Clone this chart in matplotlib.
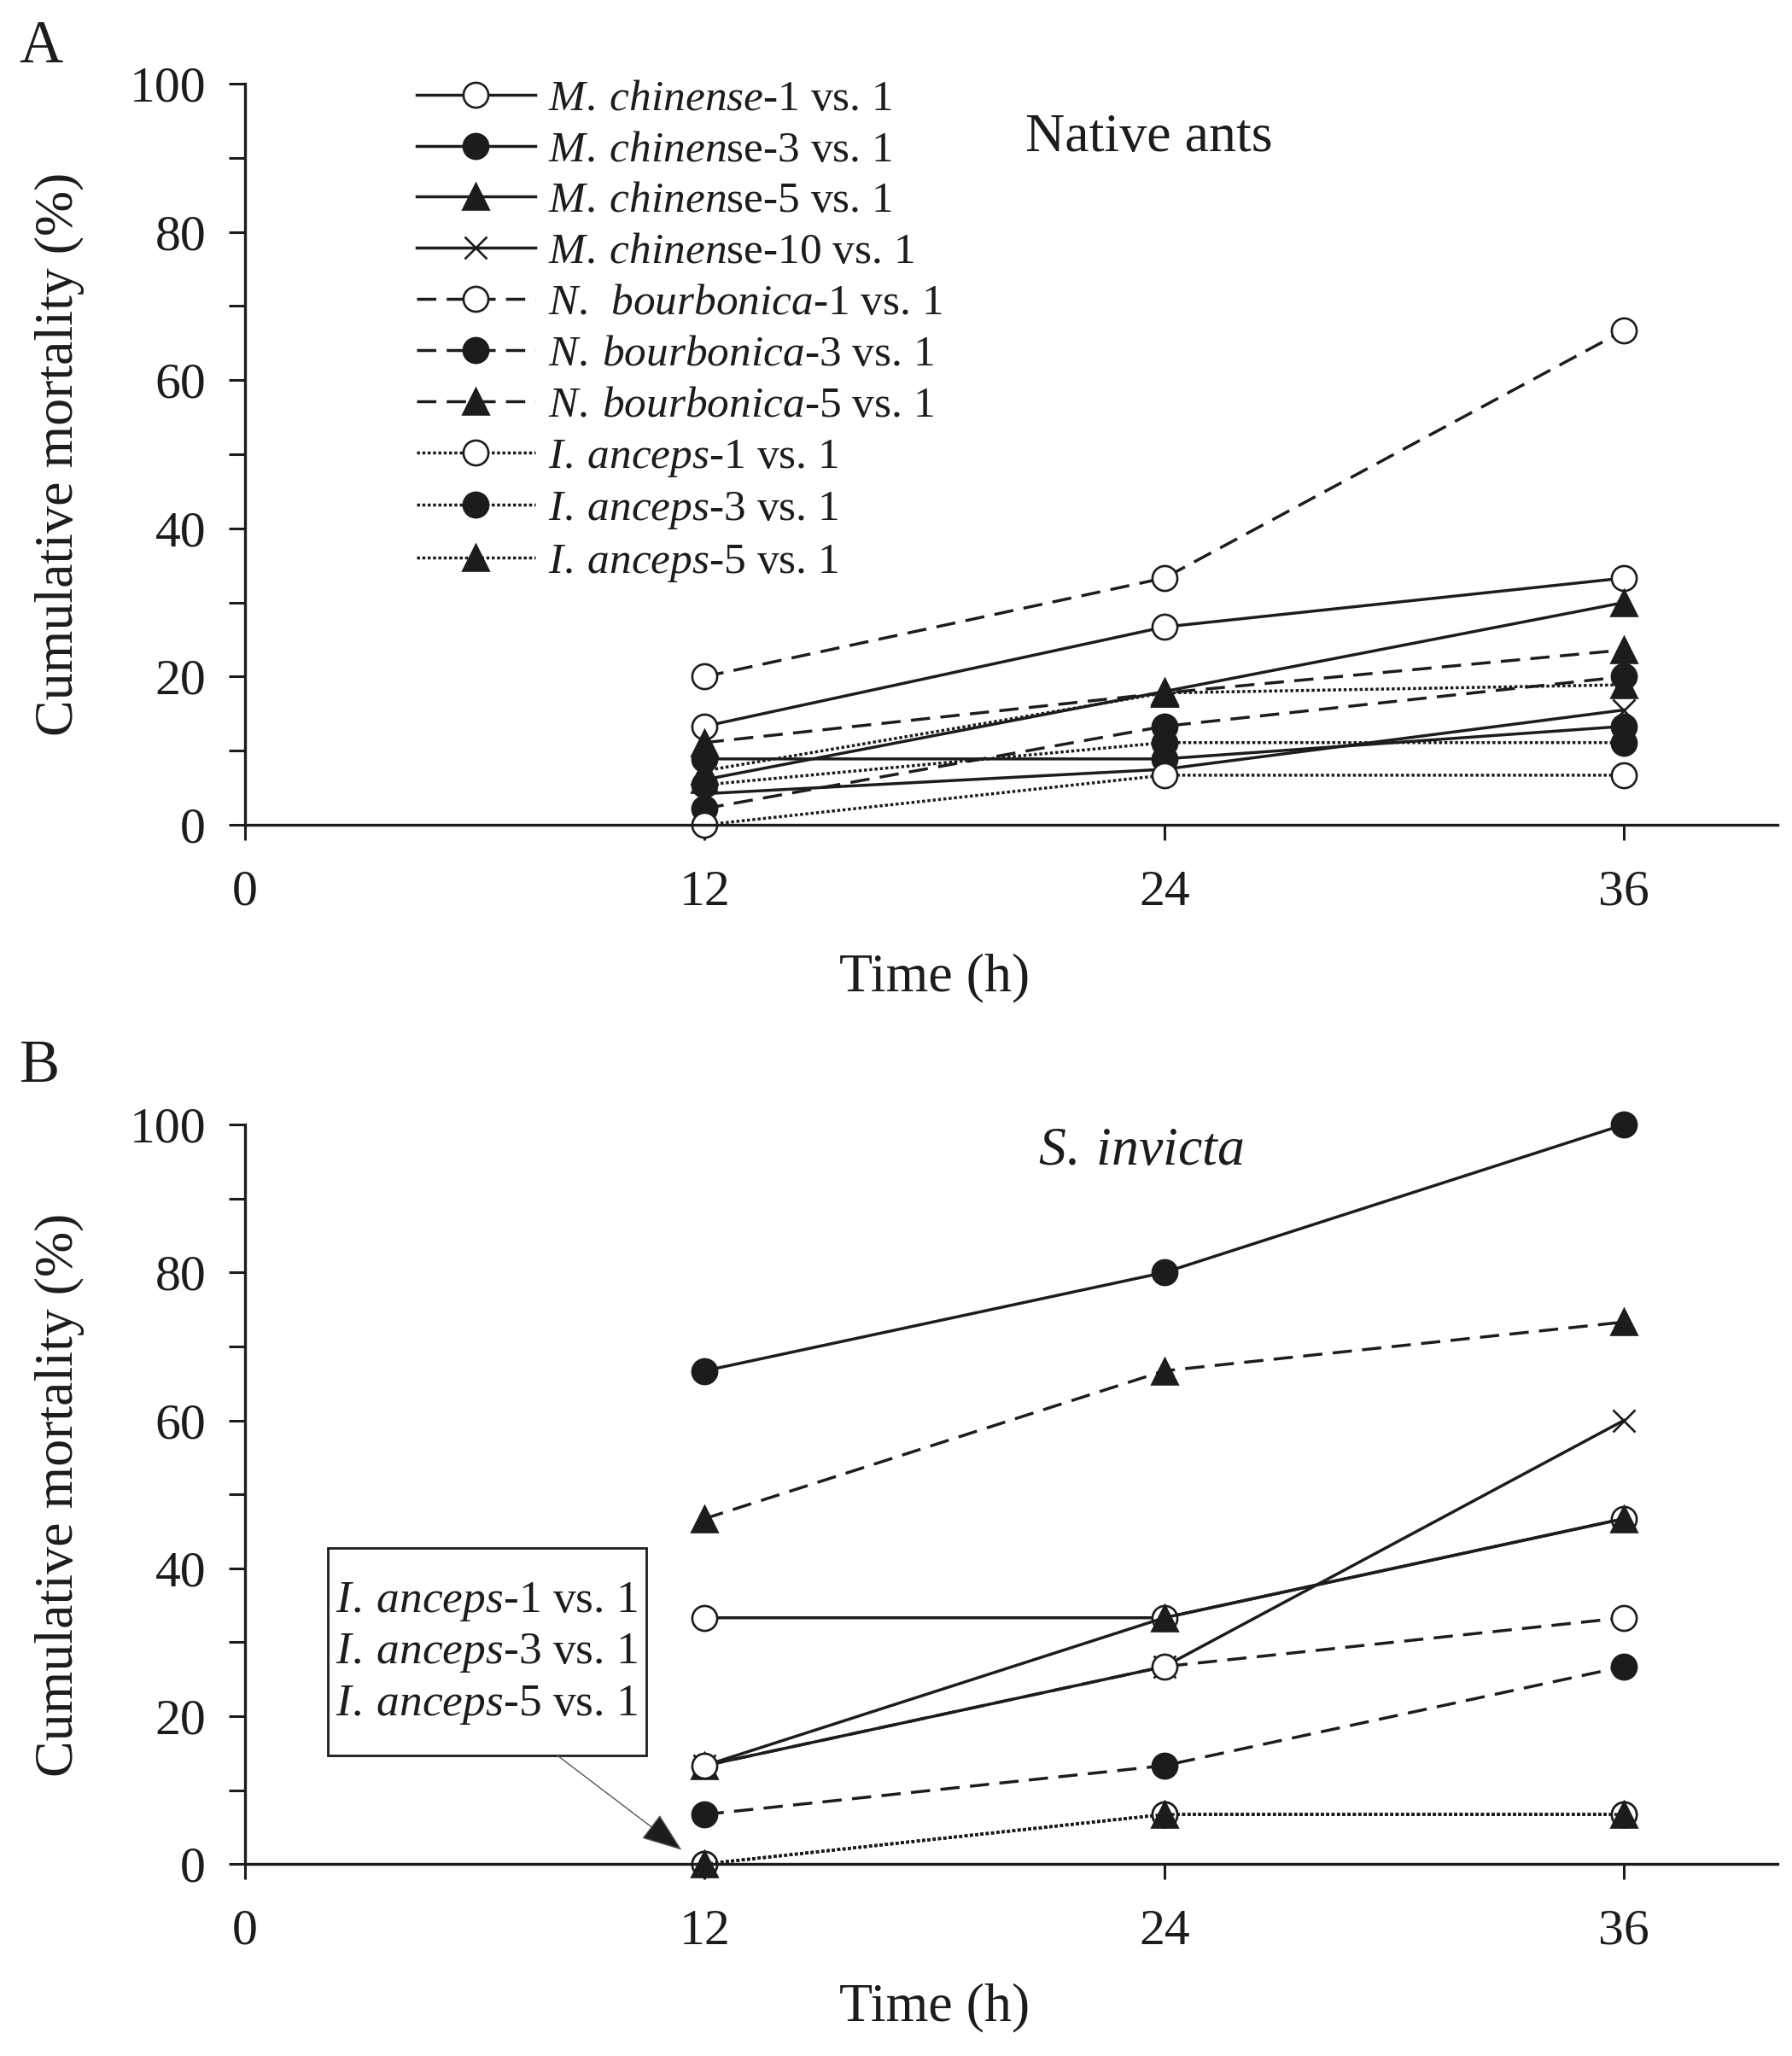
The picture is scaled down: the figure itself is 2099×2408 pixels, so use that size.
"""
plot.py

Cumulative mortality of native ants (A) and S. invicta (B) over time,
for the different ant-pair combinations.
"""
import matplotlib
matplotlib.use('Agg')
import matplotlib.pyplot as plt
from matplotlib.patches import Rectangle
from matplotlib.ticker import MultipleLocator


# === Data =====================================================================

hours = [12, 24, 36]

# Panel A - native ants
mc1_a = [13.3, 26.7, 33.3]
mc3_a = [8.9, 8.9, 13.3]
mc5_a = [6.1, 18.0, 30.0]
mc10_a = [4.2, 7.5, 15.5]
nb1_a = [20.0, 33.3, 66.7]
nb3_a = [2.2, 13.3, 20.0]
nb5_a = [11.1, 17.8, 23.6]
ia1_a = [0.0, 6.7, 6.7]
ia3_a = [5.4, 11.1, 11.1]
ia5_a = [7.3, 17.8, 18.9]

# Panel B - S. invicta
mc1_b = [33.3, 33.3, 46.7]
mc3_b = [66.7, 80.0, 100.0]
mc5_b = [13.3, 33.3, 46.7]
mc10_b = [13.3, 26.7, 60.0]
nb1_b = [13.3, 26.7, 33.3]
nb3_b = [6.7, 13.3, 26.7]
nb5_b = [46.7, 66.7, 73.3]
ia1_b = [0.0, 6.7, 6.7]
ia3_b = [0.0, 6.7, 6.7]
ia5_b = [0.0, 6.7, 6.7]

labels = [
    r'$\mathit{M.\:chinense}$-1 vs. 1',
    r'$\mathit{M.\:chinen}$se-3 vs. 1',
    r'$\mathit{M.\:chinen}$se-5 vs. 1',
    r'$\mathit{M.\:chinen}$se-10 vs. 1',
    r'$\mathit{N.\ \,bourbonica}$-1 vs. 1',
    r'$\mathit{N.\:bourbonica}$-3 vs. 1',
    r'$\mathit{N.\:bourbonica}$-5 vs. 1',
    r'$\mathit{I.\:anceps}$-1 vs. 1',
    r'$\mathit{I.\:anceps}$-3 vs. 1',
    r'$\mathit{I.\:anceps}$-5 vs. 1',
]

box_lines = [
    r'$\mathit{I.\:anceps}$-1 vs. 1',
    r'$\mathit{I.\:anceps}$-3 vs. 1',
    r'$\mathit{I.\:anceps}$-5 vs. 1',
]


# === Style ====================================================================

INK = '#1c1c1c'
DASH = (0, (6.5, 3.5))
DOT = (0, (1.0, 0.8))

# (linestyle, marker, facecolor) per series, same order as labels
styles = [
    ('-', 'o', 'white'), ('-', 'o', INK), ('-', '^', INK), ('-', 'x', INK),
    (DASH, 'o', 'white'), (DASH, 'o', INK), (DASH, '^', INK),
    (DOT, 'o', 'white'), (DOT, 'o', INK), (DOT, '^', INK),
]

plt.rcParams['font.family'] = ['Liberation Serif', 'DejaVu Serif']
plt.rcParams['mathtext.fontset'] = 'custom'
plt.rcParams['mathtext.rm'] = 'Liberation Serif'
plt.rcParams['mathtext.it'] = 'Liberation Serif:italic'
plt.rcParams['text.color'] = INK
plt.rcParams['axes.edgecolor'] = INK
plt.rcParams['xtick.color'] = INK
plt.rcParams['ytick.color'] = INK


# === Plotting Functions =======================================================

def draw_series(ax, series, zorders=None):
    """Draw one line per series; zorders lets hidden series sit underneath."""
    if zorders is None:
        zorders = [2] * len(series)
    handles = []
    for vals, (ls, mk, fc), lab, zo in zip(series, styles, labels, zorders):
        ms = 19 if mk == 'x' else 21
        ln, = ax.plot(hours, vals, linestyle=ls, color=INK, lw=2.5,
                      marker=mk, markersize=ms, markerfacecolor=fc,
                      markeredgecolor=INK, markeredgewidth=1.9,
                      label=lab, clip_on=False, zorder=zo)
        handles.append(ln)
    return handles


def style_axes(ax):
    ax.set_xlim(0, 40)
    ax.set_ylim(0, 100)
    ax.spines['top'].set_visible(False)
    ax.spines['right'].set_visible(False)
    ax.spines['left'].set_linewidth(2.4)
    ax.spines['bottom'].set_linewidth(2.4)
    ax.set_xticks([0, 12, 24, 36])
    ax.yaxis.set_major_locator(MultipleLocator(20))
    ax.yaxis.set_minor_locator(MultipleLocator(10))
    ax.tick_params(axis='y', which='both', direction='out', length=14,
                   width=2.2, labelsize=43, pad=19)
    ax.tick_params(axis='x', direction='out', length=13, width=2.2,
                   labelsize=43, pad=25)
    ax.patch.set_alpha(0)


fig = plt.figure(figsize=(20.99, 24.08), dpi=100)
ax_a = fig.add_axes([0.1367, 0.5988, 0.855, 0.3605])
ax_b = fig.add_axes([0.1367, 0.0934, 0.855, 0.3596])

series_a = [mc1_a, mc3_a, mc5_a, mc10_a, nb1_a, nb3_a, nb5_a, ia1_a, ia3_a, ia5_a]
series_b = [mc1_b, mc3_b, mc5_b, mc10_b, nb1_b, nb3_b, nb5_b, ia1_b, ia3_b, ia5_b]

handles = draw_series(ax_a, series_a)
# in panel B the I. anceps-3 markers are hidden under I. anceps-1 / -5
draw_series(ax_b, series_b, zorders=[2] * 8 + [1.9, 2])

for ax in (ax_a, ax_b):
    style_axes(ax)

# Legend (panel A)
ax_a.legend(handles=handles, loc='upper left', bbox_to_anchor=(0.112, 1.006),
            frameon=False, fontsize=37, handlelength=2.7, handletextpad=0.3,
            labelspacing=0.25, borderpad=0, borderaxespad=0, numpoints=1)

ax_a.text(23.6, 92.6, 'Native ants', fontsize=46, ha='center', va='center')
ax_b.text(23.4, 96.3, r'$\mathit{S.\:invicta}$', fontsize=46,
          ha='center', va='center')

# Annotation box for the overlapping I. anceps series in panel B
ax_b.add_patch(Rectangle((2.16, 14.7), 8.32, 28.0, fc='white', ec=INK,
                         lw=2, zorder=5, clip_on=False))
ax_b.text(6.3, 28.5, '\n'.join(box_lines), fontsize=38.5, ha='center',
          va='center', linespacing=1.28, zorder=6)
ax_b.annotate('', xy=(11.4, 1.9), xytext=(8.15, 14.7),
              arrowprops=dict(arrowstyle='-|>,head_length=0.8,head_width=0.3',
                              mutation_scale=38, fc=INK, ec='#555555',
                              lw=1.0, shrinkA=0, shrinkB=0), zorder=6)

# Axis labels
for ax, ylab_y, xlab_off in ((ax_a, 0.779, -0.207), (ax_b, 0.273, -0.194)):
    ax.text(0.45, xlab_off, 'Time (h)', transform=ax.transAxes, fontsize=46,
            ha='center', va='center')
    fig.text(0.0335, ylab_y, 'Cumulative mortality (%)', rotation=90,
             fontsize=46, ha='center', va='center')

fig.text(0.023, 0.977, 'A', fontsize=51, ha='center', va='center')
fig.text(0.022, 0.481, 'B', fontsize=51, ha='center', va='center')

fig.savefig('out.png', dpi=100, facecolor='white')
plt.close(fig)
